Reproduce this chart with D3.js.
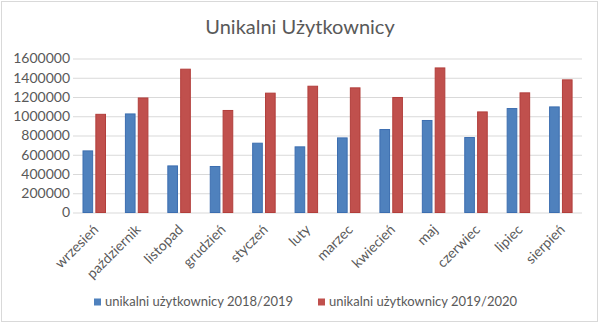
<!DOCTYPE html>
<html><head><meta charset="utf-8">
<script src="https://cdn.jsdelivr.net/npm/d3@7"></script>
<style>body{margin:0;background:#fff}svg{display:block}</style>
</head><body><svg id="c" width="600" height="325"></svg>
<script>
const categories = ["wrzesień","październik","listopad","grudzień","styczeń","luty","marzec","kwiecień","maj","czerwiec","lipiec","sierpień"];
const series1 = [640000,1024000,484000,478000,720000,682000,775000,862000,956000,779000,1080000,1097000];
const series2 = [1020000,1190000,1489000,1060000,1240000,1312000,1295000,1195000,1502000,1045000,1243000,1378000];
const seriesNames = ["unikalni użytkownicy 2018/2019","unikalni użytkownicy 2019/2020"];
const yTicks = [0,200000,400000,600000,800000,1000000,1200000,1400000,1600000];
const colors = ["#4F81BD","#C0504D"];
const strokes = ["#3C6EB0","#B23E3B"];
const font = "Lato, 'Open Sans', sans-serif";
const textColor = "#595959";

const svg = d3.select("#c");
svg.append("rect").attr("x",1.5).attr("y",1.5).attr("width",596).attr("height",320)
  .attr("fill","#fff").attr("stroke","#d9d9d9").attr("stroke-width",1);

svg.append("text").attr("x",300).attr("y",34).attr("text-anchor","middle")
  .attr("font-family",font).attr("font-size",20).attr("fill",textColor).text("Unikalni Użytkownicy");

const y = d3.scaleLinear().domain([0,1600000]).range([212.5,58.5]);
const x0 = d3.scaleBand().domain(categories).range([73,582]).padding(0);
const x1 = d3.scaleBand().domain([0,1]).range([10,32.5]).paddingInner(0.25);

const yAxis = d3.axisLeft(y).tickValues(yTicks).tickSize(-(582-73)).tickFormat(d3.format("d")).tickPadding(3);
const gy = svg.append("g").attr("transform","translate(73,0)").call(yAxis);
gy.select(".domain").remove();
gy.selectAll(".tick line").attr("stroke","#d9d9d9").attr("stroke-width",1);
gy.selectAll(".tick text").attr("font-family",font).attr("font-size",14).attr("fill",textColor);

const data = categories.map((c,i)=>({c, v:[series1[i],series2[i]]}));
const g = svg.append("g");
data.forEach(d=>{
  d.v.forEach((v,j)=>{
    g.append("rect").attr("x",x0(d.c)+x1(j)).attr("width",x1.bandwidth())
      .attr("y",y(v)).attr("height",y(0)-y(v))
      .attr("fill",colors[j]).attr("stroke",strokes[j]).attr("stroke-width",1);
  });
});

const xAxis = d3.axisBottom(x0).tickSize(0).tickPadding(0);
const gx = svg.append("g").attr("transform","translate(0,212.5)").call(xAxis);
gx.select(".domain").remove();
gx.selectAll(".tick text")
  .attr("font-family",font).attr("font-size",14).attr("fill",textColor)
  .attr("text-anchor","end").attr("dy",null).attr("y",0)
  .attr("transform","translate(5,18) rotate(-45)");

const legend = svg.append("g");
const lx = [94,318];
seriesNames.forEach((n,i)=>{
  legend.append("rect").attr("x",lx[i]).attr("y",298.5).attr("width",7).attr("height",7).attr("fill",colors[i]);
  legend.append("text").attr("x",lx[i]+11).attr("y",306).attr("font-family",font).attr("font-size",13)
    .attr("fill",textColor).text(n);
});
</script></body></html>
